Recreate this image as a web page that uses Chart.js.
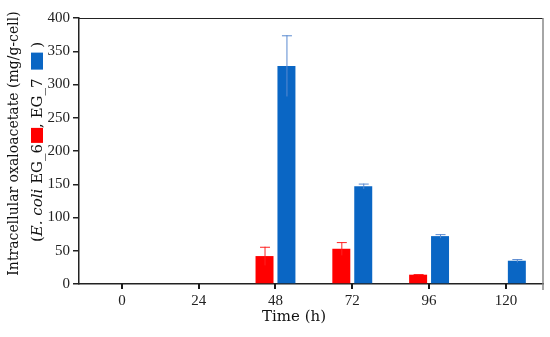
<!DOCTYPE html>
<html>
<head>
<meta charset="utf-8">
<script src="https://cdn.jsdelivr.net/npm/chart.js@4"></script>
<style>
html,body{margin:0;padding:0;background:#fff;}
#wrap{width:550px;height:337px;}
</style>
</head>
<body>
<div id="wrap"><canvas id="c" width="550" height="337"></canvas></div>
<script>
const timePoints = [0, 24, 48, 72, 96, 120];
const eg6Values = [null, null, 42, 53, 14, null];
const eg6Errors = [0, 0, 14, 10, 1, 0];
const eg7Values = [null, null, 328, 147, 72, 35];
const eg7Errors = [0, 0, 46, 4, 3, 2.5];
const yMin = 0, yMax = 400, yStep = 50;
const xMin = -13.4, xMax = 131.6;
const xTitle = 'Time (h)';
const yTitleLine1 = 'Intracellular oxaloacetate (mg/g-cell)';

const FONT = '"Liberation Serif", serif';
const TFONT = '"DejaVu Serif", serif';
const RED = '#FF0000';
const BLUE = '#0A66C4';

const toPoints = vals => timePoints.map((t, i) => ({x: t, y: vals[i]}));

const errorBars = {
  id: 'errorBars',
  afterDatasetsDraw(chart) {
    const ctx = chart.ctx;
    const ys = chart.scales.y;
    const vals = [eg6Values, eg7Values];
    const errs = [eg6Errors, eg7Errors];
    const cols = ['#FF2020', '#5A8AD0'];
    chart.data.datasets.forEach((ds, di) => {
      const meta = chart.getDatasetMeta(di);
      meta.data.forEach((bar, i) => {
        const v = vals[di][i];
        if (v == null || !errs[di][i]) return;
        const e = errs[di][i];
        const top = ys.getPixelForValue(v + e);
        const bot = ys.getPixelForValue(Math.max(0, v - e));
        ctx.save();
        ctx.strokeStyle = cols[di];
        ctx.lineWidth = 1;
        ctx.beginPath();
        ctx.moveTo(bar.x + 0.5, bot);
        ctx.lineTo(bar.x + 0.5, top);
        ctx.moveTo(bar.x - 4.5, top + 0.5);
        ctx.lineTo(bar.x + 5.5, top + 0.5);
        ctx.stroke();
        ctx.restore();
      });
    });
  }
};

const frame = {
  id: 'frame',
  afterDraw(chart) {
    const ctx = chart.ctx;
    const a = chart.chartArea;
    const xs = chart.scales.x;
    ctx.save();
    ctx.lineWidth = 1;
    ctx.strokeStyle = '#222';
    ctx.beginPath();
    ctx.moveTo(a.left, a.top + 0.5);
    ctx.lineTo(a.right, a.top + 0.5);
    ctx.stroke();
    // x tick marks at each time point
    ctx.fillStyle = '#1a1a1a';
    timePoints.forEach(t => {
      const px = Math.round(xs.getPixelForValue(t));
      ctx.fillRect(px - 1, Math.round(a.bottom), 2, 5);
    });
    ctx.strokeStyle = '#888';
    ctx.lineWidth = 1.5;
    ctx.beginPath();
    ctx.moveTo(a.right, a.top);
    ctx.lineTo(a.right, a.bottom + 6);
    ctx.stroke();

    // x-axis title
    ctx.fillStyle = '#111';
    ctx.font = '15px ' + TFONT;
    ctx.textAlign = 'center';
    ctx.textBaseline = 'alphabetic';
    ctx.fillText(xTitle, 294, 321);
    ctx.restore();

    // y-axis title with embedded legend
    ctx.save();
    ctx.fillStyle = '#111';
    ctx.rotate(-Math.PI / 2);
    ctx.textBaseline = 'alphabetic';
    ctx.font = '14px ' + TFONT;
    ctx.textAlign = 'center';
    ctx.fillText(yTitleLine1, -143.5, 18);

    const F = '15px ' + TFONT;
    const parts = [
      {t: '(', f: F},
      {t: 'E. coli', f: 'italic ' + F},
      {t: ' EG_6', f: F},
      {gap: 1},
      {sq: RED, len: 15},
      {t: ', EG_7 ', f: F},
      {gap: 4},
      {sq: BLUE, len: 17},
      {t: ' )', f: F}
    ];
    const sqH = 12;
    let x = -242;
    const base = 42;
    ctx.textAlign = 'left';
    parts.forEach(p => {
      if (p.gap) { x += p.gap; return; }
      if (p.sq) {
        ctx.fillStyle = p.sq;
        ctx.fillRect(x, base + 1 - sqH, p.len, sqH);
        x += p.len;
      } else {
        ctx.fillStyle = '#111';
        ctx.font = p.f;
        ctx.fillText(p.t, x, base);
        x += ctx.measureText(p.t).width;
      }
    });
    ctx.restore();
  }
};

new Chart(document.getElementById('c'), {
  type: 'bar',
  data: {
    datasets: [
      {label: 'EG_6', data: toPoints(eg6Values), backgroundColor: RED, borderWidth: 0,
       categoryPercentage: 0.571, barPercentage: 0.82},
      {label: 'EG_7', data: toPoints(eg7Values), backgroundColor: BLUE, borderWidth: 0,
       categoryPercentage: 0.571, barPercentage: 0.82}
    ]
  },
  options: {
    responsive: false,
    animation: false,
    layout: {padding: {top: 18, right: 7, left: 0, bottom: 0}},
    plugins: {legend: {display: false}, tooltip: {enabled: false}},
    scales: {
      x: {
        type: 'linear',
        min: xMin, max: xMax,
        offset: false,
        afterBuildTicks(s) { s.ticks = timePoints.map(v => ({value: v})); },
        grid: {offset: false, drawOnChartArea: false, drawTicks: false},
        border: {display: true, color: '#222', width: 1.5},
        ticks: {color: '#222', font: {family: FONT, size: 15}, padding: 8, maxRotation: 0,
                callback: v => String(v)},
        title: {display: false},
        afterFit(s) { s.height = 53; }
      },
      y: {
        min: yMin, max: yMax,
        ticks: {stepSize: yStep, color: '#222', font: {family: FONT, size: 15}, padding: 3},
        grid: {drawOnChartArea: false, drawTicks: true, tickLength: 6, color: '#222', lineWidth: 1.5},
        border: {display: true, color: '#222', width: 1.5},
        afterFit(s) { s.width = 79; }
      }
    }
  },
  plugins: [errorBars, frame]
});
</script>
</body>
</html>
